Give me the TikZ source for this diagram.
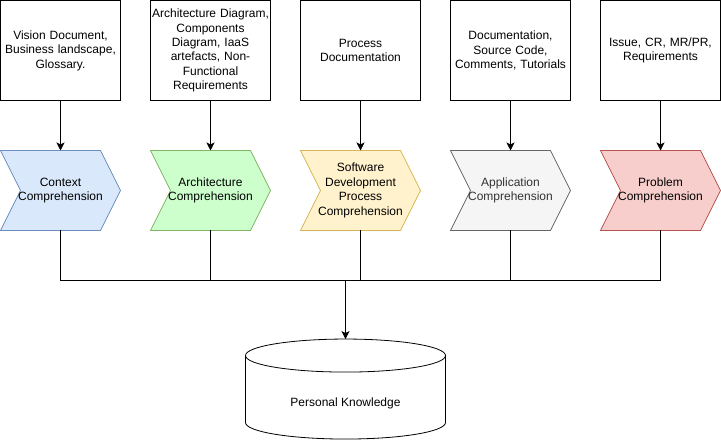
\documentclass[tikz,border=0pt]{standalone}
\usepackage{fontspec}
\setmainfont{Liberation Sans}
\usepackage{xcolor}
\usetikzlibrary{arrows.meta}
\usetikzlibrary{shapes.geometric}
\usetikzlibrary{shapes.symbols}

\definecolor{ctxfill}{HTML}{DAE8FC}
\definecolor{ctxline}{HTML}{6C8EBF}
\definecolor{arcfill}{HTML}{CCFFCC}
\definecolor{arcline}{HTML}{82B366}
\definecolor{sdpfill}{HTML}{FFF2CC}
\definecolor{sdpline}{HTML}{D6B656}
\definecolor{appfill}{HTML}{F5F5F5}
\definecolor{appline}{HTML}{666666}
\definecolor{apptext}{HTML}{333333}
\definecolor{prbfill}{HTML}{F8CECC}
\definecolor{prbline}{HTML}{B85450}

\tikzset{
  src/.style={draw, minimum width=120pt, minimum height=100pt,
    text width=118pt, align=center, inner sep=0pt, outer sep=0pt},
  phase/.style={shape=signal, signal from=west, signal to=east,
    signal pointer angle=126.87, minimum height=80pt,
    text width=90pt, align=center, inner xsep=-5pt, inner ysep=0pt,
    outer sep=0pt},
  feed/.style={-{Stealth[length=8pt,width=8pt,inset=2pt]}},
}

\begin{document}
\begin{tikzpicture}[x=1pt, y=1pt, line width=0.8pt,
    font=\fontsize{12}{14.4}\selectfont]
  \useasboundingbox (-0.5,0.5) rectangle (720.5,-440.5);
  \path (60,-50)
    node (vd) [src] {Vision Document,\\Business landscape,\\Glossary.} ++(150,0)
    node (ad) [src] {Architecture Diagram,\\Components\\Diagram, IaaS\\artefacts, Non-\\Functional\\Requirements} ++(150,0)
    node (pd) [src] {Process\\Documentation} ++(150,0)
    node (sc) [src] {Documentation,\\Source Code,\\Comments, Tutorials} ++(150,0)
    node (is) [src] {Issue, CR, MR/PR,\\Requirements}
    ;
  \path (60,-190)
    node (ctx) [phase, fill=ctxfill, draw=ctxline] {Context\\Comprehension} ++(150,0)
    node (arc) [phase, fill=arcfill, draw=arcline] {Architecture\\Comprehension} ++(150,0)
    node (sdp) [phase, fill=sdpfill, draw=sdpline] {Software\\Development\\Process\\Comprehension} ++(150,0)
    node (app) [phase, fill=appfill, draw=appline, text=apptext] {Application\\Comprehension} ++(150,0)
    node (prb) [phase, fill=prbfill, draw=prbline] {Problem\\Comprehension}
    ;
  \node (pk) [shape=cylinder, shape border rotate=90, draw, aspect=0.3,
    minimum width=200pt, minimum height=100pt, inner sep=0pt, outer sep=0pt,
    text height=20pt, text depth=2.5pt]
    at (345,-397) {Personal Knowledge};

  \draw[feed] (vd) -- (ctx);
  \draw[feed] (ad) -- (arc);
  \draw[feed] (pd) -- (sdp);
  \draw[feed] (sc) -- (app);
  \draw[feed] (is) -- (prb);

  \coordinate (bus) at (345,-280);
  \draw (ctx.south) |- (bus);
  \draw (arc.south) |- (bus);
  \draw (sdp.south) |- (bus);
  \draw (app.south) |- (bus);
  \draw (prb.south) |- (bus);
  \draw[feed] (bus) -- (pk.north);
\end{tikzpicture}
\end{document}
